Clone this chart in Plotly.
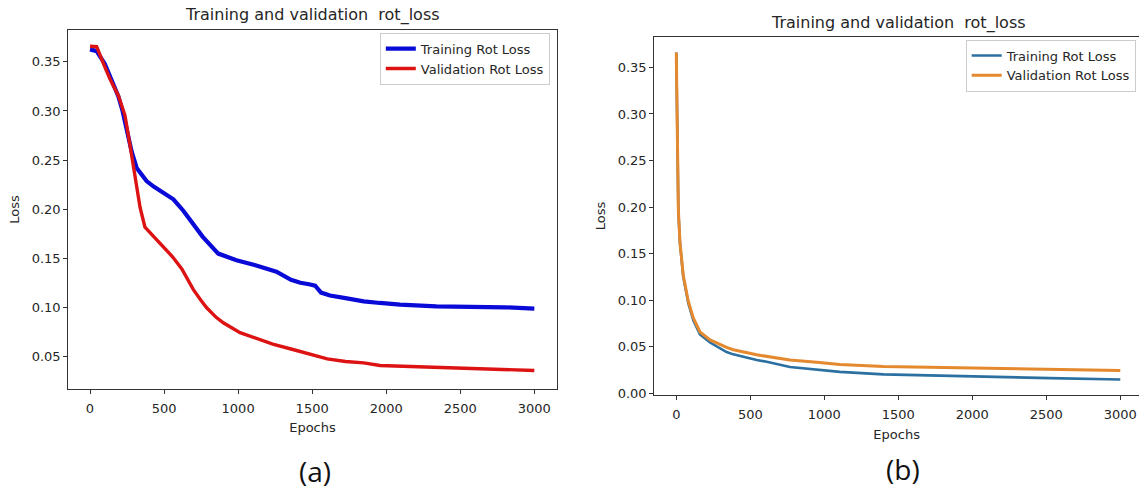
import plotly.graph_objects as go

# ---------------- data ----------------
# (a) left panel
train_a_epochs = [0, 45, 100, 150, 191, 220, 247, 281, 315, 350, 382, 430, 473, 520, 563, 630, 698,
                  760, 866, 989, 1111, 1259, 1357, 1420, 1479, 1520, 1560, 1620, 1725, 1848, 1958,
                  2093, 2339, 2585, 2800, 3000]
train_a_loss = [0.3628, 0.361, 0.348, 0.330, 0.315, 0.300, 0.2823, 0.2588, 0.242, 0.234, 0.2286,
                0.223, 0.2185, 0.214, 0.210, 0.1984, 0.185, 0.172, 0.1547, 0.148, 0.143, 0.1363,
                0.128, 0.125, 0.1235, 0.122, 0.115, 0.112, 0.1094, 0.1061, 0.1044, 0.1028, 0.101,
                0.101, 0.100, 0.0987]

val_a_epochs = [0, 45, 100, 135, 191, 236, 270, 304, 338, 371, 430, 497, 560, 620, 698, 750, 788,
                850, 900, 1013, 1137, 1234, 1357, 1479, 1602, 1725, 1848, 1958, 2093, 2339, 2585,
                2800, 3000]
val_a_loss = [0.366, 0.3655, 0.345, 0.3326, 0.3158, 0.2956, 0.2654, 0.232, 0.2017, 0.1816, 0.172,
              0.162, 0.151, 0.139, 0.118, 0.107, 0.0995, 0.090, 0.0842, 0.0742, 0.0675, 0.0625,
              0.0575, 0.0524, 0.0474, 0.0447, 0.0434, 0.0407, 0.0400, 0.039, 0.0373, 0.0365, 0.0356]

# (b) right panel
b_epochs = [0, 7, 14, 25, 47, 81, 115, 160, 228, 340, 385, 543, 611, 768, 949, 1105, 1400, 1849,
            2200, 2525, 3000]
train_b_loss = [0.366, 0.249, 0.196, 0.161, 0.1254, 0.097, 0.0785, 0.0635, 0.0547, 0.0445, 0.042,
                0.036, 0.034, 0.0285, 0.0258, 0.0232, 0.0205, 0.0187, 0.0175, 0.0165, 0.0150]
val_b_loss = [0.366, 0.25, 0.197, 0.162, 0.127, 0.099, 0.081, 0.066, 0.0575, 0.0495, 0.047,
              0.0415, 0.040, 0.036, 0.0335, 0.031, 0.0290, 0.0280, 0.0272, 0.0265, 0.0247]

x_ticks = [0, 500, 1000, 1500, 2000, 2500, 3000]
y_ticks_a = [0.05, 0.10, 0.15, 0.20, 0.25, 0.30, 0.35]
y_ticks_b = [0.00, 0.05, 0.10, 0.15, 0.20, 0.25, 0.30, 0.35]

title_text = "Training and validation \u00a0rot_loss"

# ---------------- figure ----------------
W, H = 1139, 496
FONT = "DejaVu Sans"
TXT = "#262626"
AX = "#333333"

fig = go.Figure()

fig.add_trace(go.Scatter(x=train_a_epochs, y=train_a_loss, mode="lines", name="Training Rot Loss",
                         line=dict(color="#0a0ad8", width=4.2), xaxis="x", yaxis="y", legend="legend"))
fig.add_trace(go.Scatter(x=val_a_epochs, y=val_a_loss, mode="lines", name="Validation Rot Loss",
                         line=dict(color="#dd1212", width=3.4), xaxis="x", yaxis="y", legend="legend"))
fig.add_trace(go.Scatter(x=b_epochs, y=train_b_loss, mode="lines", name="Training Rot Loss",
                         line=dict(color="#2b70a0", width=2.6), xaxis="x2", yaxis="y2", legend="legend2"))
fig.add_trace(go.Scatter(x=b_epochs, y=val_b_loss, mode="lines", name="Validation Rot Loss",
                         line=dict(color="#e5892f", width=3.0), xaxis="x2", yaxis="y2", legend="legend2"))


def px_x(p):
    return p / W


def px_y(p):
    return 1 - p / H


axis_common = dict(showgrid=False, zeroline=False, showline=True, linecolor=AX, linewidth=1.2,
                   ticks="outside", ticklen=4, tickwidth=1, tickcolor=AX,
                   tickfont=dict(family=FONT, size=13, color=TXT))
xfont = dict(family=FONT, size=13, color=TXT)

fig.update_layout(
    width=W, height=H,
    margin=dict(l=0, r=0, t=0, b=0),
    paper_bgcolor="white", plot_bgcolor="white",
    font=dict(family=FONT, size=13, color=TXT),
    xaxis=dict(domain=[px_x(68.3), px_x(556.7)], range=[-146.5, 3151], tickvals=x_ticks,
               anchor="y", ticklabelstandoff=3, mirror=True,
               title=dict(text="Epochs", font=xfont, standoff=7),
               **axis_common),
    yaxis=dict(domain=[px_y(394), px_y(30)], range=[0.0165, 0.3829], tickvals=y_ticks_a,
               tickformat=".2f", anchor="x", mirror=True,
               title=dict(text="Loss", font=xfont, standoff=9),
               **axis_common),
    # right panel: its right spine lies just outside the picture -> bottom, top and left lines only
    xaxis2=dict(domain=[px_x(654.3), 1.0], range=[-148.6, 3126.4], tickvals=x_ticks,
                anchor="y2", ticklabelstandoff=3, mirror=True,
                title=dict(text="Epochs", font=xfont, standoff=9),
                **axis_common),
    yaxis2=dict(domain=[px_y(400), px_y(37.3)], range=[-0.0018, 0.3828], tickvals=y_ticks_b,
                tickformat=".2f", anchor="x2", mirror=False,
                title=dict(text="Loss", font=xfont, standoff=9),
                **axis_common),
    legend=dict(x=px_x(549.8), y=px_y(33), xanchor="right", yanchor="top",
                bgcolor="rgba(255,255,255,0.85)", bordercolor="#cccccc", borderwidth=1,
                font=dict(family=FONT, size=13, color=TXT), itemwidth=30, tracegroupgap=0),
    legend2=dict(x=px_x(1135.7), y=px_y(40), xanchor="right", yanchor="top",
                 bgcolor="rgba(255,255,255,0.85)", bordercolor="#cccccc", borderwidth=1,
                 font=dict(family=FONT, size=13, color=TXT), itemwidth=30, tracegroupgap=0),
    showlegend=True,
)

annotations = [
    dict(text=title_text, x=px_x(312.5), y=px_y(15.5), xref="paper", yref="paper",
         showarrow=False, xanchor="center", yanchor="middle",
         font=dict(family=FONT, size=16, color=TXT)),
    dict(text=title_text, x=px_x(898.4), y=px_y(23.5), xref="paper", yref="paper",
         showarrow=False, xanchor="center", yanchor="middle",
         font=dict(family=FONT, size=16, color=TXT)),
    dict(text="(a)", x=px_x(314.5), y=px_y(476.5), xref="paper", yref="paper",
         showarrow=False, xanchor="center", yanchor="middle",
         font=dict(family="Open Sans", size=28, color="#111111")),
    dict(text="(b)", x=px_x(902.7), y=px_y(475), xref="paper", yref="paper",
         showarrow=False, xanchor="center", yanchor="middle",
         font=dict(family="Open Sans", size=28, color="#111111")),
]
fig.update_layout(annotations=annotations)

# remove the page's default body margin so the figure fills the window exactly
fig.write_html("out.html", config={"displayModeBar": False},
               post_script="document.body.style.margin='0';document.body.style.overflow='hidden';")
